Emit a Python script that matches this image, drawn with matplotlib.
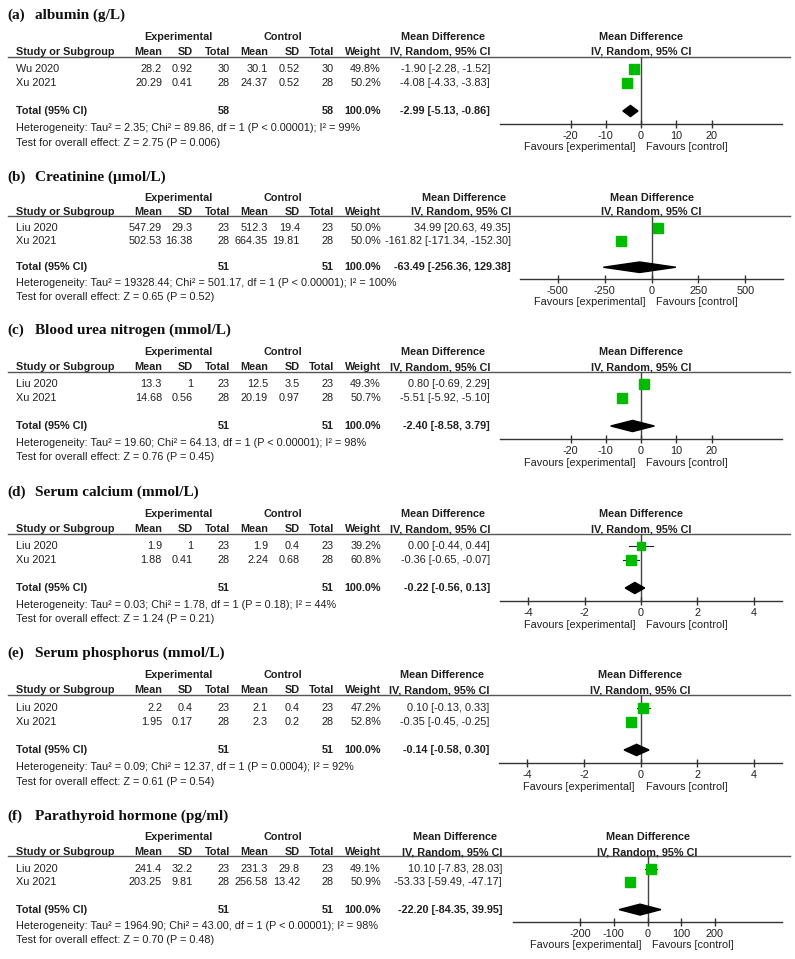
import matplotlib
matplotlib.use("Agg")
import matplotlib.pyplot as plt
from matplotlib.transforms import blended_transform_factory, offset_copy

plt.rcParams["font.family"] = ["Liberation Sans", "DejaVu Sans"]

# ---- data ----
labels = ["(a)", "(b)", "(c)", "(d)", "(e)", "(f)"]
titles = ["albumin (g/L)", "Creatinine (\u03bcmol/L)", "Blood urea nitrogen (mmol/L)",
          "Serum calcium (mmol/L)", "Serum phosphorus (mmol/L)", "Parathyroid hormone (pg/ml)"]
studies = [["Wu 2020", "Xu 2021"]] + [["Liu 2020", "Xu 2021"]] * 5

exp_mean = [["28.2", "20.29"], ["547.29", "502.53"], ["13.3", "14.68"],
            ["1.9", "1.88"], ["2.2", "1.95"], ["241.4", "203.25"]]
exp_sd = [["0.92", "0.41"], ["29.3", "16.38"], ["1", "0.56"],
          ["1", "0.41"], ["0.4", "0.17"], ["32.2", "9.81"]]
exp_n = [[30, 28], [23, 28], [23, 28], [23, 28], [23, 28], [23, 28]]
ctl_mean = [["30.1", "24.37"], ["512.3", "664.35"], ["12.5", "20.19"],
            ["1.9", "2.24"], ["2.1", "2.3"], ["231.3", "256.58"]]
ctl_sd = [["0.52", "0.52"], ["19.4", "19.81"], ["3.5", "0.97"],
          ["0.4", "0.68"], ["0.4", "0.2"], ["29.8", "13.42"]]
ctl_n = [[30, 28], [23, 28], [23, 28], [23, 28], [23, 28], [23, 28]]
weights = [[49.8, 50.2], [50.0, 50.0], [49.3, 50.7], [39.2, 60.8], [47.2, 52.8], [49.1, 50.9]]
md = [[-1.90, -4.08], [34.99, -161.82], [0.80, -5.51], [0.00, -0.36], [0.10, -0.35], [10.10, -53.33]]
md_lo = [[-2.28, -4.33], [20.63, -171.34], [-0.69, -5.92], [-0.44, -0.65], [-0.13, -0.45], [-7.83, -59.49]]
md_hi = [[-1.52, -3.83], [49.35, -152.30], [2.29, -5.10], [0.44, -0.07], [0.33, -0.25], [28.03, -47.17]]
tot_md = [-2.99, -63.49, -2.40, -0.22, -0.14, -22.20]
tot_lo = [-5.13, -256.36, -8.58, -0.56, -0.58, -84.35]
tot_hi = [-0.86, 129.38, 3.79, 0.13, 0.30, 39.95]
tot_exp = [58, 51, 51, 51, 51, 51]
tot_ctl = [58, 51, 51, 51, 51, 51]
tau2 = ["2.35", "19328.44", "19.60", "0.03", "0.09", "1964.90"]
chi2 = ["89.86", "501.17", "64.13", "1.78", "12.37", "43.00"]
p_het = ["< 0.00001", "< 0.00001", "< 0.00001", "= 0.18", "= 0.0004", "< 0.00001"]
i2 = [99, 100, 98, 44, 92, 98]
z_val = ["2.75", "0.65", "0.76", "1.24", "0.61", "0.70"]
p_z = ["0.006", "0.52", "0.45", "0.21", "0.54", "0.48"]
x_half = [40, 700, 40, 5, 5, 400]
x_ticks = [[-20, -10, 0, 10, 20], [-500, -250, 0, 250, 500], [-20, -10, 0, 10, 20],
           [-4, -2, 0, 2, 4], [-4, -2, 0, 2, 4], [-200, -100, 0, 100, 200]]

# ---- layout (pixels) ----
W, H = 795, 959
title_y = [15, 177, 330, 492, 653, 816]
vscale = [1.0, 0.94, 1.0, 1.0, 1.01, 0.975]
md_right = [490, 511, 490, 490, 489, 502]
plot_x = [(500, 782), (520, 783), (500, 782), (500, 782), (499, 782), (513, 782)]
cols = [162, 193, 230, 268, 300, 334, 381]

TXT = "#202020"
FS = 7.85
FSB = 7.8
GREEN = "#00bb00"

fig = plt.figure(figsize=(W / 100, H / 100), dpi=100)
bg = fig.add_axes([0, 0, 1, 1])
bg.set_xlim(0, W)
bg.set_ylim(H, 0)
bg.axis("off")


def txt(x, y, s, ha="left", bold=False, **kw):
    bg.text(x, y, s, ha=ha, va="center", fontsize=FSB if bold else FS, color=TXT,
            fontweight="bold" if bold else "normal", **kw)


for p in range(6):
    t, s = title_y[p], vscale[p]
    y_exp, y_hdr, y_line = t + 22 * s, t + 37 * s, t + 41.5 * s
    y_r1, step = t + 54 * s, 14 * s
    y_tot, y_het, y_test = t + 96 * s, t + 113 * s, t + 127.5 * s
    y_axis = t + 109 * s

    # title
    bg.text(7, t, labels[p], ha="left", va="center", fontsize=11, fontweight="bold",
            family="Liberation Serif", color="#111111")
    bg.text(35, t, titles[p], ha="left", va="center", fontsize=11, fontweight="bold",
            family="Liberation Serif", color="#111111")

    # header
    txt((cols[0] + cols[2]) / 2 - 18, y_exp, "Experimental", ha="center", bold=True)
    txt((cols[3] + cols[5]) / 2 - 18, y_exp, "Control", ha="center", bold=True)
    txt(md_right[p] - 47, y_exp, "Mean Difference", ha="center", bold=True)
    txt(16, y_hdr, "Study or Subgroup", bold=True)
    for x, h in zip(cols, ["Mean", "SD", "Total", "Mean", "SD", "Total", "Weight"]):
        txt(x, y_hdr, h, ha="right", bold=True)
    txt(md_right[p], y_hdr, "IV, Random, 95% CI", ha="right", bold=True)
    bg.plot([8, 790], [y_line, y_line], color="#555555", lw=1.0)

    # study rows
    for i in range(2):
        y = y_r1 + i * step
        txt(16, y, studies[p][i])
        vals = [exp_mean[p][i], exp_sd[p][i], str(exp_n[p][i]),
                ctl_mean[p][i], ctl_sd[p][i], str(ctl_n[p][i]), f"{weights[p][i]:.1f}%"]
        for x, v in zip(cols, vals):
            txt(x, y, v, ha="right")
        txt(md_right[p], y, f"{md[p][i]:.2f} [{md_lo[p][i]:.2f}, {md_hi[p][i]:.2f}]", ha="right")

    # total row
    txt(16, y_tot, "Total (95% CI)", bold=True)
    txt(cols[2], y_tot, str(tot_exp[p]), ha="right", bold=True)
    txt(cols[5], y_tot, str(tot_ctl[p]), ha="right", bold=True)
    txt(cols[6], y_tot, "100.0%", ha="right", bold=True)
    txt(md_right[p], y_tot, f"{tot_md[p]:.2f} [{tot_lo[p]:.2f}, {tot_hi[p]:.2f}]", ha="right", bold=True)
    txt(16, y_het, f"Heterogeneity: Tau\u00b2 = {tau2[p]}; Chi\u00b2 = {chi2[p]}, df = 1 "
                   f"(P {p_het[p]}); I\u00b2 = {i2[p]}%")
    txt(16, y_test, f"Test for overall effect: Z = {z_val[p]} (P = {p_z[p]})")

    # forest plot
    x0, x1 = plot_x[p]
    ax = fig.add_axes([x0 / W, 1 - y_axis / H, (x1 - x0) / W, (y_axis - y_line) / H])
    ax.set_facecolor("none")
    ax.set_xlim(-x_half[p], x_half[p])
    ax.set_ylim((y_axis - y_r1) / step, (y_line - y_r1) / step)
    for side in ["top", "left", "right"]:
        ax.spines[side].set_visible(False)
    ax.spines["bottom"].set_color("#333333")
    ax.spines["bottom"].set_linewidth(1.0)
    ax.set_yticks([])
    ax.set_xticks(x_ticks[p])
    ax.set_xticklabels([str(v) for v in x_ticks[p]])
    ax.tick_params(axis="x", direction="inout", length=6, width=1.0, color="#333333",
                   labelsize=FS, labelcolor=TXT, pad=2)
    ax.axvline(0, color="#444444", lw=1.0, zorder=1)

    for i in range(2):
        ax.plot([md_lo[p][i], md_hi[p][i]], [i, i], color="#222222", lw=0.8, zorder=2)
        side_px = 0.5 * weights[p][i] ** 0.75
        ax.plot(md[p][i], i, marker="s", markersize=side_px * 0.72, color=GREEN,
                markeredgecolor=GREEN, zorder=3)
    hh = 0.4
    ax.fill([tot_lo[p], tot_md[p], tot_hi[p], tot_md[p]], [3, 3 - hh, 3, 3 + hh],
            color="black", zorder=3)

    # column header above the plot, centred on zero
    tr = blended_transform_factory(ax.transData, bg.transData)
    bg.text(0, y_exp, "Mean Difference", transform=tr, ha="center", va="center",
            fontsize=FSB, fontweight="bold", color=TXT)
    bg.text(0, y_hdr, "IV, Random, 95% CI", transform=tr, ha="center", va="center",
            fontsize=FSB, fontweight="bold", color=TXT)
    y_fav = y_axis + 23.5 * s
    bg.text(0, y_fav, "Favours [experimental]", transform=offset_copy(tr, fig, x=-6, units="dots"),
            ha="right", va="center", fontsize=FS, color=TXT)
    bg.text(0, y_fav, "Favours [control]", transform=offset_copy(tr, fig, x=5, units="dots"),
            ha="left", va="center", fontsize=FS, color=TXT)

fig.savefig("out.png", dpi=100)
